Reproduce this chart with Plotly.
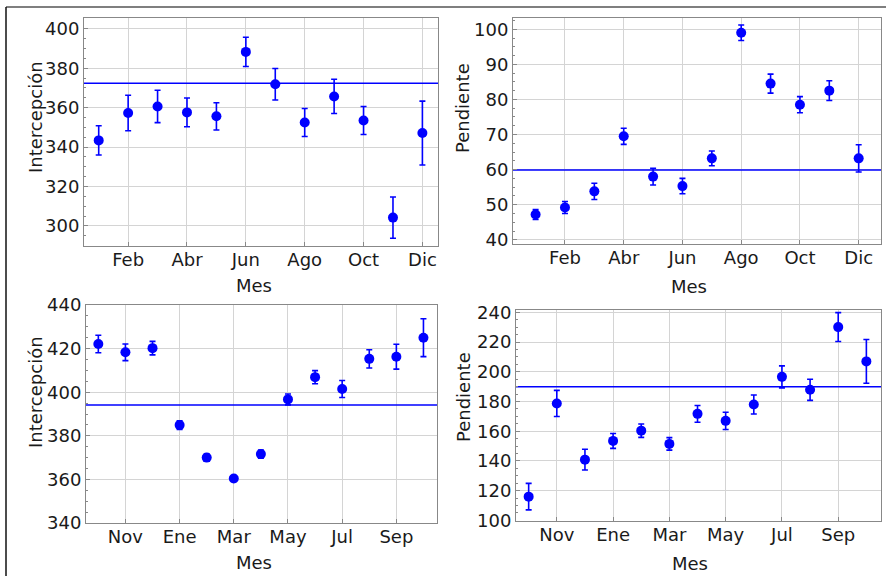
import plotly.graph_objects as go
from plotly.subplots import make_subplots

# Top row: Ene..Dic
meses_a = ["Ene", "Feb", "Mar", "Abr", "May", "Jun", "Jul", "Ago", "Sep", "Oct", "Nov", "Dic"]
inter_a = [343.4, 357.3, 360.6, 357.6, 355.6, 388.3, 371.9, 352.5, 365.7, 353.5, 304.2, 347.1]
inter_a_err = [7.4, 9.0, 8.2, 7.3, 6.9, 7.4, 8.0, 7.1, 8.7, 7.1, 10.5, 16.2]
inter_a_ref = 372.4
pend_a = [47.2, 49.2, 53.8, 69.5, 58.0, 55.3, 63.2, 99.0, 84.5, 78.5, 82.5, 63.2]
pend_a_err = [1.4, 1.7, 2.3, 2.3, 2.4, 2.2, 2.1, 2.2, 2.7, 2.3, 2.8, 3.9]
pend_a_ref = 59.9

# Bottom row: Oct..Oct
meses_b = ["Oct", "Nov", "Dic", "Ene", "Feb", "Mar", "Abr", "May", "Jun", "Jul", "Ago", "Sep", "Oct"]
inter_b = [422.1, 418.3, 420.2, 384.9, 370.0, 360.4, 371.6, 396.7, 406.9, 401.5, 415.3, 416.3, 425.0]
inter_b_err = [4.0, 3.8, 3.1, 2.0, 1.6, 1.3, 1.9, 2.5, 3.0, 3.9, 4.2, 5.7, 8.7]
inter_b_ref = 394.1
pend_b = [116.0, 178.7, 140.9, 153.5, 160.4, 151.5, 171.7, 167.0, 178.0, 196.6, 187.9, 230.1, 207.0]
pend_b_err = [8.9, 8.8, 7.0, 5.0, 4.5, 4.2, 5.6, 5.8, 6.4, 7.4, 7.1, 9.7, 14.7]
pend_b_ref = 189.9

BLUE = "#0000ff"
TXT = "#1a1a1a"
W, H = 886, 576

fig = make_subplots(rows=2, cols=2)

paneles = [
    (1, 1, meses_a, inter_a, inter_a_err, inter_a_ref, "Intercepción"),
    (1, 2, meses_a, pend_a, pend_a_err, pend_a_ref, "Pendiente"),
    (2, 1, meses_b, inter_b, inter_b_err, inter_b_ref, "Intercepción"),
    (2, 2, meses_b, pend_b, pend_b_err, pend_b_ref, "Pendiente"),
]

# plot areas in pixels: (x0, x1, y0, y1) from top-left
areas = {
    (1, 1): (84, 438, 18, 246),
    (1, 2): (513, 881, 18, 244),
    (2, 1): (86, 437, 305, 523),
    (2, 2): (516, 881, 310, 521),
}
x_rangos = {
    (1, 1): [-0.5, 11.53],
    (1, 2): [-0.77, 11.76],
    (2, 1): [-0.455, 12.5],
    (2, 2): [-0.45, 12.52],
}
y_rangos = {
    (1, 1): [289.8, 405.5],
    (1, 2): [38.8, 103.2],
    (2, 1): [340, 440],
    (2, 2): [99.6, 241.6],
}
y_dticks = {(1, 1): 20, (1, 2): 10, (2, 1): 20, (2, 2): 20}
# axis title positions (px): x-title centre, y-title centre
titulos = {
    (1, 1): ((254, 285), (35, 117)),
    (1, 2): ((689, 286), (462, 108)),
    (2, 1): ((254, 562), (35, 392)),
    (2, 2): ((690, 563), (463, 397)),
}

anotaciones = []
for r, c, meses, vals, errs, ref, ytitle in paneles:
    idx = list(range(len(meses)))
    fig.add_trace(go.Scatter(
        x=idx, y=vals, mode="markers",
        marker=dict(color=BLUE, size=10),
        error_y=dict(type="data", array=errs, color=BLUE, thickness=1.6, width=3),
        showlegend=False,
    ), row=r, col=c)
    fig.add_trace(go.Scatter(
        x=x_rangos[(r, c)], y=[ref, ref], mode="lines",
        line=dict(color=BLUE, width=1.5), showlegend=False,
    ), row=r, col=c)

    x0, x1, y0, y1 = areas[(r, c)]
    tick_idx = idx[1::2]
    fig.update_xaxes(
        domain=[x0 / W, x1 / W],
        range=x_rangos[(r, c)],
        tickvals=tick_idx, ticktext=[meses[i] for i in tick_idx],
        showgrid=True, gridcolor="#d4d4d4", gridwidth=1,
        showline=True, linecolor="#888888", linewidth=1, mirror=True,
        ticks="inside", ticklen=4, tickcolor="#888888",
        ticklabelstandoff=-3,
        zeroline=False, automargin=False,
        tickfont=dict(size=18, color=TXT),
        row=r, col=c,
    )
    fig.update_yaxes(
        domain=[1 - y1 / H, 1 - y0 / H],
        range=y_rangos[(r, c)], dtick=y_dticks[(r, c)],
        showgrid=True, gridcolor="#d4d4d4", gridwidth=1,
        showline=True, linecolor="#888888", linewidth=1, mirror=True,
        ticks="inside", ticklen=4, tickcolor="#888888",
        minor=dict(ticks="inside", ticklen=2, tickcolor="#888888",
                   dtick=y_dticks[(r, c)] / 4, showgrid=False),
        zeroline=False, automargin=False,
        tickfont=dict(size=18, color=TXT),
        row=r, col=c,
    )

    (xtx, xty), (ytx, yty) = titulos[(r, c)]
    anotaciones.append(dict(text="Mes", x=xtx / W, y=1 - xty / H, xref="paper", yref="paper",
                            showarrow=False, xanchor="center", yanchor="middle",
                            font=dict(size=18, color=TXT)))
    anotaciones.append(dict(text=ytitle, x=ytx / W, y=1 - yty / H, xref="paper", yref="paper",
                            showarrow=False, xanchor="center", yanchor="middle", textangle=-90,
                            font=dict(size=18, color=TXT)))

fig.update_layout(
    width=W, height=H,
    margin=dict(l=0, r=0, t=0, b=0),
    paper_bgcolor="white", plot_bgcolor="white",
    font=dict(family="DejaVu Sans", color=TXT),
    annotations=anotaciones,
    shapes=[
        dict(type="line", xref="paper", yref="paper", x0=6 / W, x1=1, y0=1 - 7 / H, y1=1 - 7 / H,
             line=dict(color="#555555", width=1.5)),
        dict(type="line", xref="paper", yref="paper", x0=6 / W, x1=6 / W, y0=0, y1=1 - 7 / H,
             line=dict(color="#111111", width=1.5)),
    ],
)

# page body has a default margin; drop it so the figure sits at the window origin
fig.write_html("out.html", config={"displayModeBar": False},
               post_script="document.body.style.margin='0px';")
